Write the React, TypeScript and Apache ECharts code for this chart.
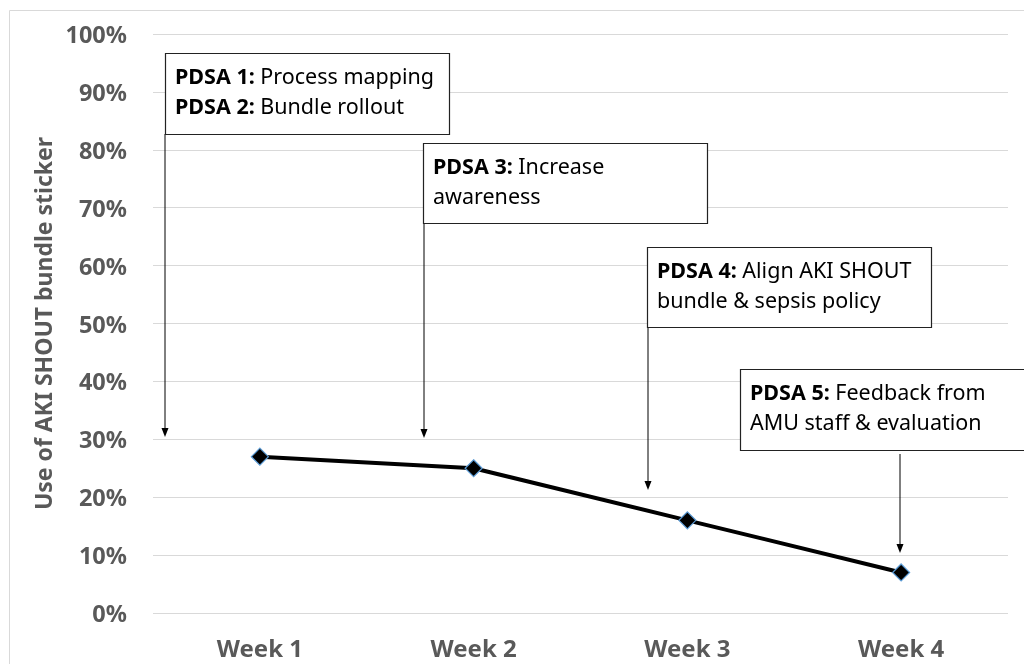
import React, { useEffect, useRef } from "react";
import * as echarts from "echarts";

const categories = ["Week 1", "Week 2", "Week 3", "Week 4"];
const usageValues = [27, 25, 16, 7];
const yAxisName = "Use of AKI SHOUT bundle sticker";

const annotationTexts = [
  "{b|PDSA 1:} Process mapping\n{b|PDSA 2:} Bundle rollout",
  "{b|PDSA 3:} Increase\nawareness",
  "{b|PDSA 4:} Align AKI SHOUT\nbundle & sepsis policy",
  "{b|PDSA 5:} Feedback from\nAMU staff & evaluation",
];

// layout of annotation boxes and arrows (pixels)
const boxLayout = [
  { x: 165, y: 53, w: 284, h: 81, ax: 165, ay0: 134, ay1: 437 },
  { x: 423, y: 143, w: 284, h: 80, ax: 424, ay0: 223, ay1: 438 },
  { x: 647, y: 247, w: 284, h: 80, ax: 648, ay0: 327, ay1: 490 },
  { x: 740, y: 369, w: 286, h: 81, ax: 900, ay0: 454, ay1: 553 },
];

const FONT = "'Noto Sans', 'Open Sans', sans-serif";
const GRAY = "#595959";
const BOX_FONT = 21.5;

export default function App() {
  const ref = useRef<HTMLDivElement>(null);
  useEffect(() => {
    document.body.style.margin = "0";
    if (!ref.current) return;
    const chart = echarts.init(ref.current, null, { renderer: "svg" });

    const graphics: any[] = [
      {
        type: "rect",
        shape: { x: 9.5, y: 10.5, width: 1040, height: 700 },
        style: { fill: "none", stroke: "#d9d9d9", lineWidth: 1 },
        z: 0,
        silent: true,
      },
    ];
    boxLayout.forEach((b, i) => {
      graphics.push({
        type: "line",
        shape: { x1: b.ax, y1: b.ay0, x2: b.ax, y2: b.ay1 - 6 },
        style: { stroke: "#000", lineWidth: 1 },
        z: 10,
      });
      graphics.push({
        type: "polygon",
        shape: {
          points: [
            [b.ax, b.ay1],
            [b.ax - 3.5, b.ay1 - 9],
            [b.ax + 3.5, b.ay1 - 9],
          ],
        },
        style: { fill: "#000" },
        z: 10,
      });
      graphics.push({
        type: "rect",
        shape: { x: b.x + 0.5, y: b.y + 0.5, width: b.w, height: b.h },
        style: { fill: "#fff", stroke: "#222", lineWidth: 1.2 },
        z: 11,
      });
      graphics.push({
        type: "text",
        x: b.x + 10,
        y: b.y + 7,
        style: {
          text: annotationTexts[i],
          fill: "#000",
          fontFamily: FONT,
          fontSize: BOX_FONT,
          lineHeight: 30,
          verticalAlign: "top",
          align: "left",
          rich: {
            b: { fontWeight: "bold", fontFamily: FONT, fontSize: BOX_FONT, lineHeight: 30 },
          },
        },
        z: 12,
      });
    });

    chart.setOption({
      animation: false,
      grid: { left: 153, right: 16, top: 34, bottom: 51 },
      xAxis: {
        type: "category",
        data: categories,
        axisLine: { show: false },
        axisTick: { show: false },
        axisLabel: {
          color: GRAY,
          fontFamily: FONT,
          fontWeight: "bold",
          fontSize: 24,
          margin: 22,
        },
      },
      yAxis: {
        type: "value",
        min: 0,
        max: 100,
        interval: 10,
        name: yAxisName,
        nameLocation: "middle",
        nameGap: 96,
        nameTextStyle: {
          color: GRAY,
          fontFamily: FONT,
          fontWeight: "bold",
          fontSize: 23,
        },
        axisLine: { show: false },
        axisTick: { show: false },
        axisLabel: {
          formatter: "{value}%",
          color: GRAY,
          fontFamily: FONT,
          fontWeight: "bold",
          fontSize: 23.5,
          margin: 26,
        },
        splitLine: { lineStyle: { color: "#d9d9d9", width: 1 } },
      },
      series: [
        {
          type: "line",
          data: usageValues,
          symbol: "diamond",
          symbolSize: 17,
          itemStyle: { color: "#000", borderColor: "#5b9bd5", borderWidth: 1.2 },
          lineStyle: { color: "#000", width: 4 },
          z: 5,
        },
      ],
      graphic: graphics,
    });
    return () => chart.dispose();
  }, []);
  return (
    <div
      ref={ref}
      style={{ position: "fixed", left: 0, top: 0, width: 1024, height: 664 }}
    />
  );
}
